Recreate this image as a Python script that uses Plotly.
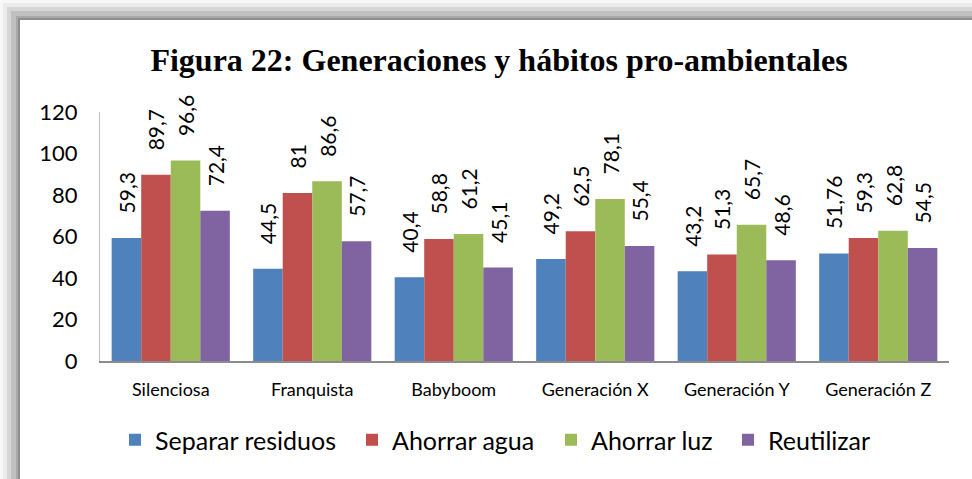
import plotly.graph_objects as go

categories = ["Silenciosa", "Franquista", "Babyboom", "Generación X", "Generación Y", "Generación Z"]
series_names = ["Separar residuos", "Ahorrar agua", "Ahorrar luz", "Reutilizar"]
separar_residuos = [59.3, 44.5, 40.4, 49.2, 43.2, 51.76]
ahorrar_agua = [89.7, 81, 58.8, 62.5, 51.3, 59.3]
ahorrar_luz = [96.6, 86.6, 61.2, 78.1, 65.7, 62.8]
reutilizar = [72.4, 57.7, 45.1, 55.4, 48.6, 54.5]
y_ticks = [0, 20, 40, 60, 80, 100, 120]
colors = ["#4F81BD", "#C0504D", "#9BBB59", "#8064A2"]

W, H = 972, 479
ML, MR, MT, MB = 100, 23, 112, 118
PW, PH = W - ML - MR, H - MT - MB
FONT = "Lato, Open Sans, sans-serif"
legend_ids = ["legend", "legend2", "legend3", "legend4"]
legend_left_px = [115, 352, 551, 728]
LABEL_PAD = "\u00a0\u00a0\u00a0\u00a0"


def fmt(v):
    return LABEL_PAD + ("%g" % v).replace(".", ",")


fig = go.Figure()
for name, vals, c, lid in zip(series_names, [separar_residuos, ahorrar_agua, ahorrar_luz, reutilizar], colors, legend_ids):
    fig.add_trace(go.Bar(
        x=categories, y=vals, name=name, legend=lid,
        marker=dict(color=c, line=dict(width=0)),
        text=[fmt(v) for v in vals],
        textposition="outside", textangle=-90, constraintext="none",
        textfont=dict(family=FONT, size=21, color="#000000"),
        cliponaxis=False,
    ))


def px2paper_x(px):
    return (px - ML) / PW


def px2paper_y(py):
    return (H - MB - py) / PH


# frame shading (shadow bands on left and top)
bands = [(0, "#f8f8f8"), (3, "#ececec"), (7, "#d6d6d6"), (11, "#c0c0c0"), (16, "#a9a9a9"), (18, "#8e8e8e")]
shapes = []
for k, col in bands:
    shapes.append(dict(type="rect", xref="paper", yref="paper",
                       x0=px2paper_x(k), x1=px2paper_x(W + 5),
                       y0=px2paper_y(H + 5), y1=px2paper_y(k),
                       fillcolor=col, line=dict(width=0), layer="below"))
shapes.append(dict(type="rect", xref="paper", yref="paper",
                   x0=px2paper_x(20), x1=px2paper_x(W + 5),
                   y0=px2paper_y(H + 5), y1=px2paper_y(20),
                   fillcolor="#ffffff", line=dict(width=0), layer="below"))

legends = {}
for lid, lx in zip(legend_ids, legend_left_px):
    legends[lid] = dict(orientation="h", x=px2paper_x(lx), xanchor="left",
                        y=px2paper_y(440), yanchor="middle",
                        font=dict(size=25, family=FONT), bgcolor="rgba(0,0,0,0)",
                        itemwidth=30)

fig.update_layout(
    width=W, height=H,
    margin=dict(l=ML, r=MR, t=MT, b=MB),
    paper_bgcolor="#ffffff", plot_bgcolor="rgba(0,0,0,0)",
    barmode="group", bargap=0.165, bargroupgap=0,
    title=dict(text="<b>Figura 22: Generaciones y hábitos pro-ambientales</b>",
               font=dict(family="Liberation Serif, Times New Roman, serif", size=32, color="#000000"),
               x=px2paper_x(499), xref="paper", xanchor="center",
               y=1 - 60 / H, yref="container", yanchor="middle"),
    font=dict(family=FONT, color="#000000"),
    xaxis=dict(showgrid=False, showline=True, linecolor="#8c8c8c", linewidth=1.5,
               ticks="", tickfont=dict(size=18, family=FONT),
               ticklabelstandoff=12),
    yaxis=dict(range=[0, 120], tickvals=y_ticks, showgrid=False, showline=True,
               linecolor="#bfbfbf", linewidth=1, ticks="", zeroline=False,
               tickfont=dict(size=22, family=FONT),
               ticklabelstandoff=17),
    shapes=shapes,
    showlegend=True,
    **legends,
)

fig.write_html("out.html", config={"displayModeBar": False},
               post_script="document.body.style.margin='0';document.body.style.overflow='hidden';")
